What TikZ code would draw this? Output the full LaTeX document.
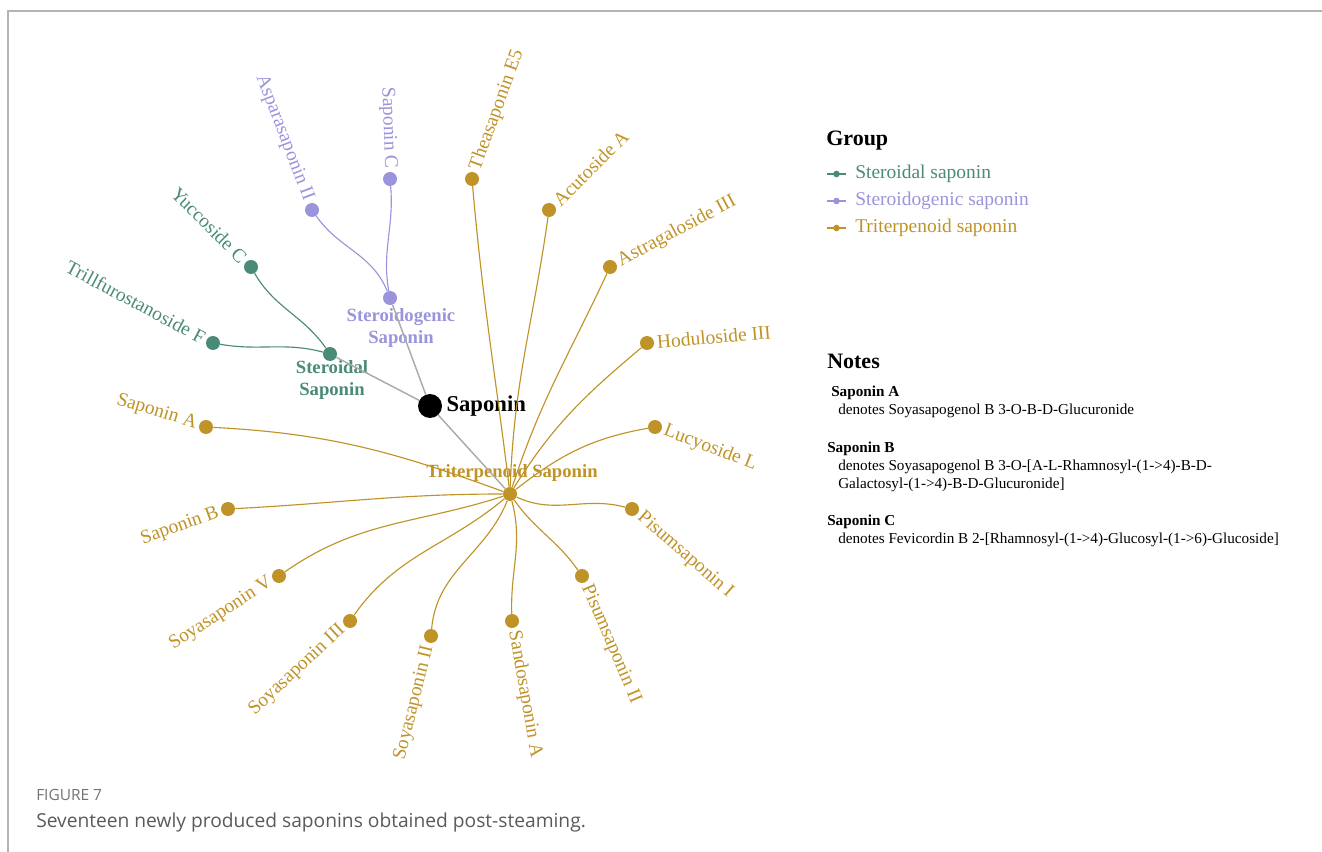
\documentclass[tikz,border=0pt]{standalone}
\usepackage{fontspec}
\setmainfont{Liberation Serif}
\newfontfamily\capfont{Open Sans}
\usepackage{tikz}
\usetikzlibrary{arrows.meta}
\definecolor{sterd}{HTML}{4A8A78}
\definecolor{stgen}{HTML}{9A94DC}
\definecolor{trit}{HTML}{BF9328}
\definecolor{linkgray}{HTML}{ABABAB}
\definecolor{framegray}{HTML}{B4B4B4}
\definecolor{capgray}{HTML}{5A5A5A}
\newcommand{\lblsize}{\fontsize{14.6}{17}\selectfont}
\newcommand{\notesize}{\fontsize{11.4}{13.5}\selectfont}
\newcommand{\headsize}{\fontsize{16.5}{19}\selectfont}

\begin{document}
\begin{tikzpicture}[x=0.75pt,y=0.75pt]
\tikzstyle{every node}=[font=\lblsize]
\tikzstyle{dot}=[circle,fill,inner sep=0pt,minimum size=10.5pt]
\tikzstyle{lbl}=[inner sep=2pt,font=\lblsize]
\tikzstyle{hublbl}=[inner sep=0pt,align=center,font=\fontsize{14}{17}\selectfont\bfseries]
\tikzstyle{link}=[line width=0.85pt]
\tikzstyle{txt}=[inner sep=0pt,anchor=west]
\useasboundingbox (0,0) rectangle (1322,-852);
\draw[framegray,line width=1.4pt] (8,-852) -- (8,-11) -- (1322,-11);

% root and group hubs
\node[dot,fill=black,minimum size=18pt,
  label={[inner sep=3pt,font=\fontsize{17}{20}\selectfont\bfseries]0:Saponin}] (sap) at (430,-406) {};
\node[dot,fill=sterd] (ster) at (330,-354) {};
\node[dot,fill=stgen] (stgn) at (390,-298) {};
\node[dot,fill=trit] (trit) at (510,-494) {};
\node[hublbl,text=sterd] (sterT) at (332,-380) {Steroidal\\Saponin};
\node[hublbl,text=stgen] (stgnT) at (401,-328) {Steroidogenic\\Saponin};
\node[hublbl,text=trit] (tritT) at (512,-473) {Triterpenoid Saponin};

\draw[linkgray,line width=1.1pt] (sap) -- (ster);
\draw[linkgray,line width=1.1pt] (sap) -- (stgn);
\draw[linkgray,line width=1.1pt] (sap) -- (trit);

% steroidal saponin
\node[dot,fill=sterd,label={[lbl,text=sterd,rotate=-45,anchor=east]135:Yuccoside C}] (yucc) at (251,-267) {};
\node[dot,fill=sterd,label={[lbl,text=sterd,rotate=-28,anchor=east]152:Trillfurostanoside F}] (trill) at (213,-343) {};
\draw[link,sterd] (ster) to[out=125,in=-60] (yucc);
\draw[link,sterd] (ster) to[out=165,in=-10] (trill);

% steroidogenic saponin
\node[dot,fill=stgen,label={[lbl,text=stgen,rotate=-69,anchor=east]111:Asparasaponin II}] (aspa) at (312,-210) {};
\node[dot,fill=stgen,label={[lbl,text=stgen,rotate=-88,anchor=east]92:Saponin C}] (sapc) at (390,-179) {};
\draw[link,stgen] (stgn) to[out=112,in=-55] (aspa);
\draw[link,stgen] (stgn) to[out=100,in=-85] (sapc);

% triterpenoid saponin
\node[dot,fill=trit,label={[lbl,text=trit,rotate=70,anchor=west]70:Theasaponin E5}] (thea) at (472,-179) {};
\node[dot,fill=trit,label={[lbl,text=trit,rotate=45,anchor=west]45:Acutoside A}] (acut) at (549,-210) {};
\node[dot,fill=trit,label={[lbl,text=trit,rotate=28,anchor=west]28:Astragaloside III}] (astr) at (610,-267) {};
\node[dot,fill=trit,label={[lbl,text=trit,rotate=5,anchor=west]5:Hoduloside III}] (hodu) at (647,-343) {};
\node[dot,fill=trit,label={[lbl,text=trit,rotate=-21,anchor=west]-21:Lucyoside L}] (lucy) at (655,-427) {};
\node[dot,fill=trit,label={[lbl,text=trit,rotate=-41,anchor=west]-41:Pisumsaponin I}] (pisa) at (632,-509) {};
\node[dot,fill=trit,label={[lbl,text=trit,rotate=-67,anchor=west]-67:Pisumsaponin II}] (pisb) at (582,-576) {};
\node[dot,fill=trit,label={[lbl,text=trit,rotate=-80,anchor=west]-80:Sandosaponin A}] (sando) at (512,-621) {};
\node[dot,fill=trit,label={[lbl,text=trit,rotate=76,anchor=east]-104:Soyasaponin II}] (soyb) at (431,-636) {};
\node[dot,fill=trit,label={[lbl,text=trit,rotate=43,anchor=east]-137:Soyasaponin III}] (soyc) at (350,-621) {};
\node[dot,fill=trit,label={[lbl,text=trit,rotate=33,anchor=east]-147:Soyasaponin V}] (soye) at (279,-576) {};
\node[dot,fill=trit,label={[lbl,text=trit,rotate=20,anchor=east]-160:Saponin B}] (sapb) at (228,-509) {};
\node[dot,fill=trit,label={[lbl,text=trit,rotate=-17,anchor=east]163:Saponin A}] (sapa) at (206,-427) {};
\draw[link,trit] (trit) to[out=97,in=-85] (thea);
\draw[link,trit] (trit) to[out=88,in=-98] (acut);
\draw[link,trit] (trit) to[out=72,in=-115] (astr);
\draw[link,trit] (trit) to[out=58,in=-140] (hodu);
\draw[link,trit] (trit) to[out=38,in=-170] (lucy);
\draw[link,trit] (trit) to[out=-25,in=165] (pisa);
\draw[link,trit] (trit) to[out=-55,in=125] (pisb);
\draw[link,trit] (trit) to[out=-75,in=92] (sando);
\draw[link,trit] (trit) to[out=-112,in=85] (soyb);
\draw[link,trit] (trit) to[out=-140,in=55] (soyc);
\draw[link,trit] (trit) to[out=-162,in=35] (soye);
\draw[link,trit] (trit) to[out=180,in=3] (sapb);
\draw[link,trit] (trit) to[out=160,in=-3] (sapa);

% legend
\node[txt,font=\headsize\bfseries] (grp) at (826,-141) {Group};
\foreach \c/\t/\y in {sterd/Steroidal saponin/174,stgen/Steroidogenic saponin/201,trit/Triterpenoid saponin/228}{
  \draw[\c,line width=1pt] (827,-\y) -- (846,-\y);
  \fill[\c] (836.5,-\y) circle (3.3);
  \node[txt,text=\c] at (855,-\y) {\t};
}

% notes
\node[txt,font=\headsize\bfseries] (notes) at (827,-361) {Notes};
\node[txt,font=\notesize\bfseries] (na) at (831,-393) {Saponin A};
\node[txt,font=\notesize] (nat) at (838,-411) {denotes Soyasapogenol B 3-O-B-D-Glucuronide};
\node[txt,font=\notesize\bfseries] (nb) at (827,-449) {Saponin B};
\node[txt,font=\notesize] (nbt) at (838,-467) {denotes Soyasapogenol B 3-O-[A-L-Rhamnosyl-(1->4)-B-D-};
\node[txt,font=\notesize] (nbu) at (838,-485) {Galactosyl-(1->4)-B-D-Glucuronide]};
\node[txt,font=\notesize\bfseries] (nc) at (827,-522) {Saponin C};
\node[txt,font=\notesize] (nct) at (838,-540) {denotes Fevicordin B 2-[Rhamnosyl-(1->4)-Glucosyl-(1->6)-Glucoside]};

% caption
\node[txt,text=capgray!85,font=\capfont\fontsize{11.6}{13}\selectfont] (fig) at (36,-795) {FIGURE 7};
\node[txt,text=capgray,font=\capfont\fontsize{14.4}{17}\selectfont] (cap) at (36,-823) {Seventeen newly produced saponins obtained post-steaming.};
\end{tikzpicture}
\end{document}
